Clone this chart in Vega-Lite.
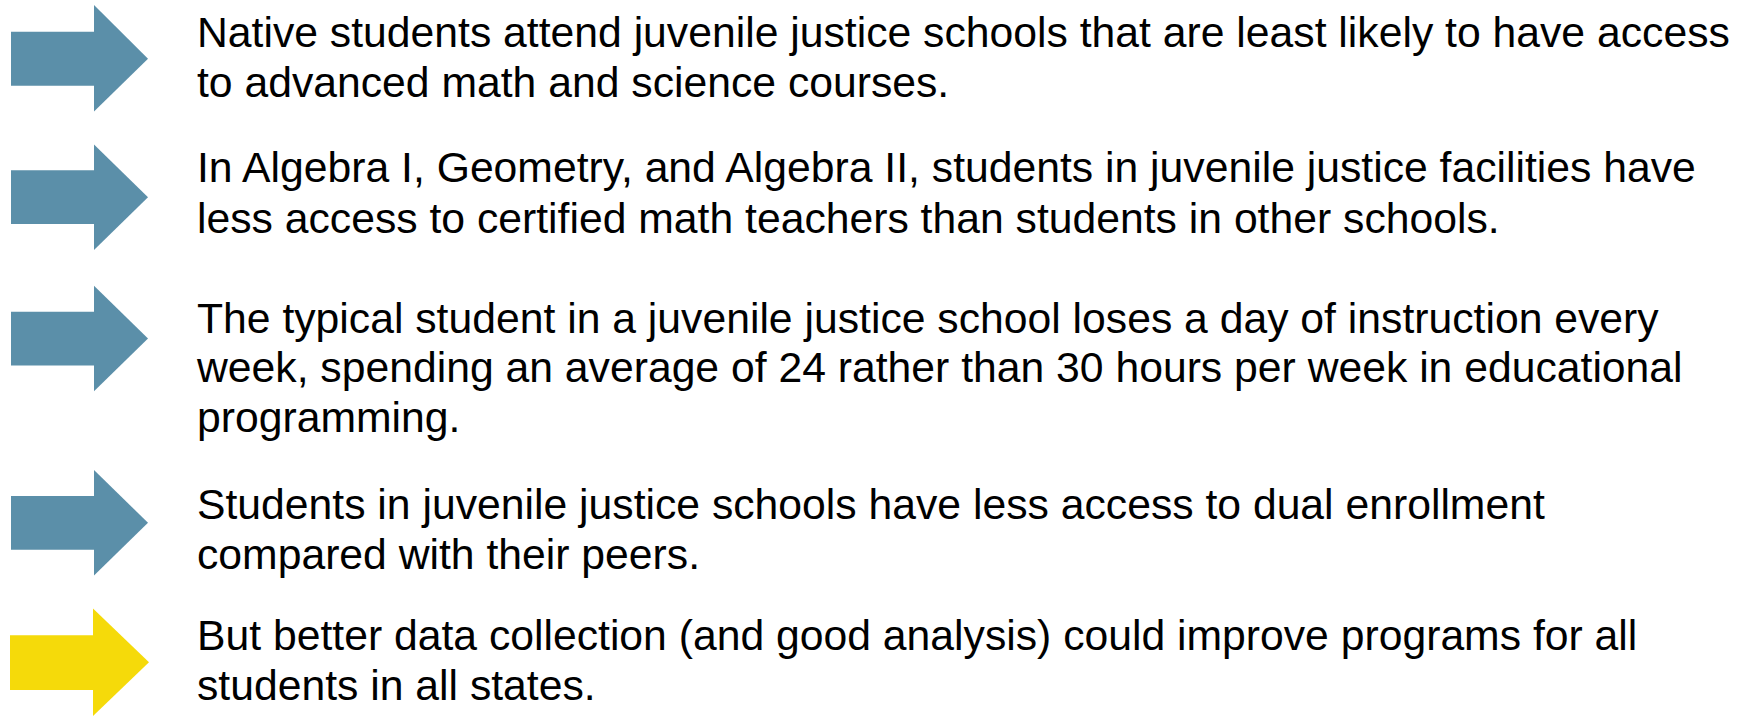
{
  "$schema": "https://vega.github.io/schema/vega-lite/v6.json",
  "autosize": {"type": "fit", "contains": "padding"},
  "width": 1747,
  "height": 716,
  "padding": 0,
  "background": "white",
  "config": {"view": {"stroke": null}},
  "datasets": {
    "shafts": [
      {"arrow": 1, "x": 11, "x2": 95, "y": 32, "y2": 86, "kind": "blue"},
      {"arrow": 2, "x": 11, "x2": 95, "y": 171, "y2": 225, "kind": "blue"},
      {"arrow": 3, "x": 11, "x2": 95, "y": 313, "y2": 367, "kind": "blue"},
      {"arrow": 4, "x": 11, "x2": 95, "y": 498, "y2": 552, "kind": "blue"},
      {"arrow": 5, "x": 10, "x2": 94, "y": 638, "y2": 693, "kind": "yellow"}
    ],
    "heads": [
      {"arrow": 1, "x": 94, "y": 5, "y2": 112, "kind": "blue"},
      {"arrow": 1, "x": 148, "y": 59, "y2": 59, "kind": "blue"},
      {"arrow": 2, "x": 94, "y": 145, "y2": 251, "kind": "blue"},
      {"arrow": 2, "x": 148, "y": 198, "y2": 198, "kind": "blue"},
      {"arrow": 3, "x": 94, "y": 287, "y2": 393, "kind": "blue"},
      {"arrow": 3, "x": 148, "y": 340, "y2": 340, "kind": "blue"},
      {"arrow": 4, "x": 94, "y": 472, "y2": 578, "kind": "blue"},
      {"arrow": 4, "x": 148, "y": 525, "y2": 525, "kind": "blue"},
      {"arrow": 5, "x": 93, "y": 611, "y2": 719, "kind": "yellow"},
      {"arrow": 5, "x": 149, "y": 665, "y2": 665, "kind": "yellow"}
    ],
    "lines": [
      {"y": 47, "text": "Native students attend juvenile justice schools that are least likely to have access"},
      {"y": 97, "text": "to advanced math and science courses."},
      {"y": 183, "text": "In Algebra I, Geometry, and Algebra II, students in juvenile justice facilities have"},
      {"y": 234, "text": "less access to certified math teachers than students in other schools."},
      {"y": 334, "text": "The typical student in a juvenile justice school loses a day of instruction every"},
      {"y": 384, "text": "week, spending an average of 24 rather than 30 hours per week in educational"},
      {"y": 434, "text": "programming."},
      {"y": 521, "text": "Students in juvenile justice schools have less access to dual enrollment"},
      {"y": 571, "text": "compared with their peers."},
      {"y": 653, "text": "But better data collection (and good analysis) could improve programs for all"},
      {"y": 703, "text": "students in all states."}
    ]
  },
  "layer": [
    {
      "data": {"name": "shafts"},
      "mark": {"type": "rect"},
      "encoding": {
        "x": {"field": "x", "type": "quantitative", "scale": {"domain": [0, 1747]}, "axis": null},
        "x2": {"field": "x2"},
        "y": {"field": "y", "type": "quantitative", "scale": {"domain": [0, 716], "reverse": true}, "axis": null},
        "y2": {"field": "y2"},
        "color": {"field": "kind", "type": "nominal", "scale": {"domain": ["blue", "yellow"], "range": ["#5b8fa9", "#f5da0a"]}, "legend": null}
      }
    },
    {
      "data": {"name": "heads"},
      "mark": {"type": "area", "interpolate": "linear"},
      "encoding": {
        "x": {"field": "x", "type": "quantitative", "scale": {"domain": [0, 1747]}, "axis": null},
        "y": {"field": "y", "type": "quantitative", "scale": {"domain": [0, 716], "reverse": true}, "axis": null},
        "y2": {"field": "y2"},
        "detail": {"field": "arrow", "type": "nominal"},
        "color": {"field": "kind", "type": "nominal", "scale": {"domain": ["blue", "yellow"], "range": ["#5b8fa9", "#f5da0a"]}, "legend": null}
      }
    },
    {
      "data": {"name": "lines"},
      "mark": {"type": "text", "align": "left", "baseline": "alphabetic", "font": "Liberation Sans", "fontSize": 42.7, "color": "#000000", "x": 197},
      "encoding": {
        "y": {"field": "y", "type": "quantitative", "scale": {"domain": [0, 716], "reverse": true}, "axis": null},
        "text": {"field": "text", "type": "nominal"}
      }
    }
  ]
}
